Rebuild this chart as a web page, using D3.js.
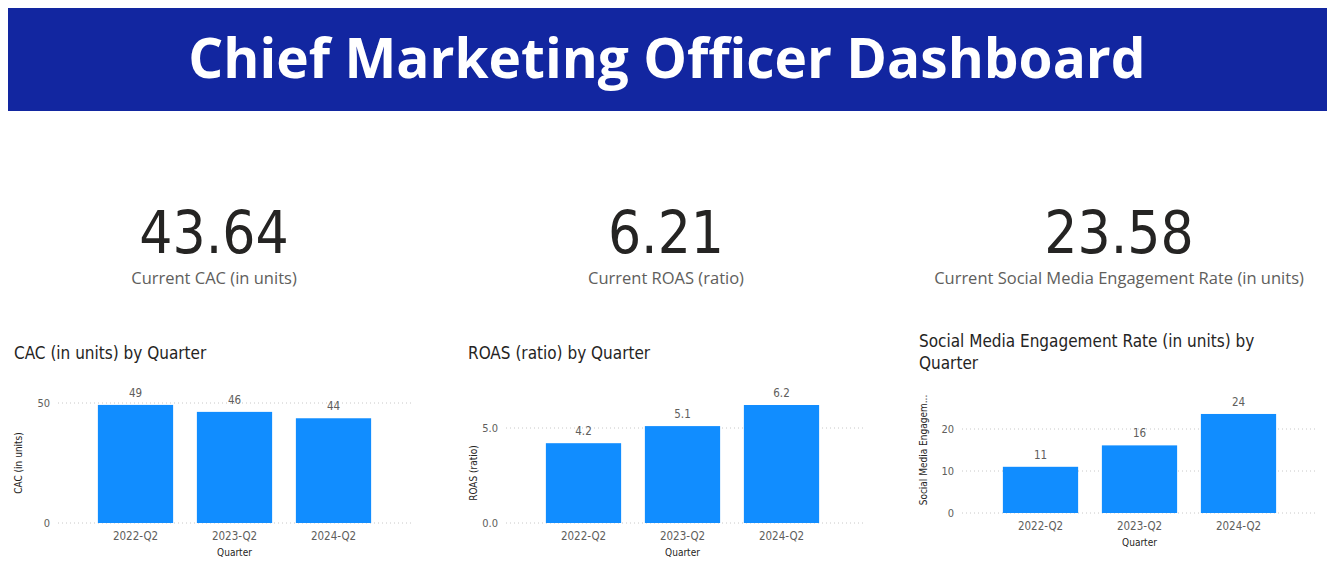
<!DOCTYPE html>
<html><head><meta charset="utf-8">
<script src="https://cdn.jsdelivr.net/npm/d3@7"></script>
<style>body{margin:0;background:#fff}text{font-family:"DejaVu Sans Condensed","DejaVu Sans",sans-serif}</style>
</head><body>
<svg id="c" width="1335" height="565"></svg>
<script>
// data
var quarters = ["2022-Q2", "2023-Q2", "2024-Q2"];
var cacValues = [49.2, 46.3, 43.64];
var roasValues = [4.2, 5.1, 6.21];
var smeValues = [11.0, 16.1, 23.58];
var kpiValues = ["43.64", "6.21", "23.58"];
var kpiLabels = ["Current CAC (in units)", "Current ROAS (ratio)", "Current Social Media Engagement Rate (in units)"];

var svg = d3.select("#c");

// header
svg.append("rect").attr("x", 8).attr("y", 8).attr("width", 1319).attr("height", 103).attr("fill", "#1226A0");
svg.append("text").attr("x", 667).attr("y", 78).attr("text-anchor", "middle")
  .attr("fill", "#fff").style("font-family", "'Open Sans',sans-serif").style("font-weight", 700).style("font-size", "55px")
  .text("Chief Marketing Officer Dashboard");

// kpi cards
var kpiX = [214, 666, 1119];
kpiValues.forEach(function(v, i){
  svg.append("text").attr("x", kpiX[i]).attr("y", 253).attr("text-anchor", "middle")
    .attr("fill", "#252423").style("font-size", "58px").text(v);
  svg.append("text").attr("x", kpiX[i]).attr("y", 284).attr("text-anchor", "middle")
    .attr("fill", "#605E5C").style("font-family", "'Open Sans',sans-serif").style("font-size", "16.5px").text(kpiLabels[i]);
});

function barChart(cfg){
  var g = svg.append("g");
  var x = d3.scaleBand().domain(quarters).range(cfg.xr).paddingInner(0.24).paddingOuter(0.12);
  var y = d3.scaleLinear().domain(cfg.dom).range(cfg.yr);
  // title
  cfg.title.forEach(function(t, i){
    g.append("text").attr("x", cfg.tx).attr("y", cfg.ty + i * 22).attr("fill", "#252423").style("font-size", "17px").text(t);
  });
  // grid
  var ya = d3.axisLeft(y).tickValues(cfg.ticks).tickSize(0).tickPadding(8);
  var ag = g.append("g").attr("transform", "translate(" + cfg.gx[0] + ",0)").call(ya);
  ag.select(".domain").remove();
  ag.selectAll("text").attr("fill", "#605E5C").style("font-size", "11px");
  g.selectAll(".grid").data(cfg.ticks).enter().append("line")
    .attr("x1", cfg.gx[0]).attr("x2", cfg.gx[1]).attr("y1", y).attr("y2", y)
    .attr("stroke", "#c8c8c8").attr("stroke-dasharray", "1,3");
  // bars
  g.selectAll(".bar").data(cfg.values).enter().append("rect")
    .attr("x", function(d, i){ return x(quarters[i]); }).attr("width", x.bandwidth())
    .attr("y", function(d){ return y(d); }).attr("height", function(d){ return y(0) - y(d); })
    .attr("fill", "#118DFF");
  g.selectAll(".lbl").data(cfg.values).enter().append("text")
    .attr("x", function(d, i){ return x(quarters[i]) + x.bandwidth() / 2; })
    .attr("y", function(d){ return y(d) - 8; }).attr("text-anchor", "middle")
    .attr("fill", "#605E5C").style("font-size", "11.5px")
    .text(function(d){ return d3.format(cfg.fmt)(d); });
  // x axis
  var xa = g.append("g").attr("transform", "translate(0," + y(0) + ")").call(d3.axisBottom(x).tickSize(0).tickPadding(9));
  xa.select(".domain").remove();
  xa.selectAll("text").attr("fill", "#605E5C").style("font-size", "11.5px");
  g.append("text").attr("x", (cfg.xr[0] + cfg.xr[1]) / 2).attr("y", y(0) + 33).attr("text-anchor", "middle")
    .attr("fill", "#252423").style("font-size", "10px").text("Quarter");
  g.append("text").attr("transform", "translate(" + cfg.yx + "," + cfg.yc + ") rotate(-90)")
    .attr("text-anchor", "middle").attr("fill", "#252423").style("font-size", "10px").text(cfg.ytitle);
}

barChart({values: cacValues, dom: [0, 50], yr: [523, 403], ticks: [0, 50], xr: [86, 383], gx: [58, 413],
  title: ["CAC (in units) by Quarter"], tx: 14, ty: 359, ytitle: "CAC (in units)", yx: 22, yc: 463, fmt: ".0f"});
barChart({values: roasValues, dom: [0, 5], yr: [523, 428], ticks: [0, 5], xr: [534, 831], gx: [506, 865],
  title: ["ROAS (ratio) by Quarter"], tx: 468, ty: 359, ytitle: "ROAS (ratio)", yx: 477, yc: 473, fmt: ".1f"});
barChart({values: smeValues, dom: [0, 20], yr: [513, 429], ticks: [0, 10, 20], xr: [991, 1288], gx: [962, 1318],
  title: ["Social Media Engagement Rate (in units) by", "Quarter"], tx: 919, ty: 347, ytitle: "Social Media Engagem...", yx: 927, yc: 450, fmt: ".0f"});
</script>
</body></html>
